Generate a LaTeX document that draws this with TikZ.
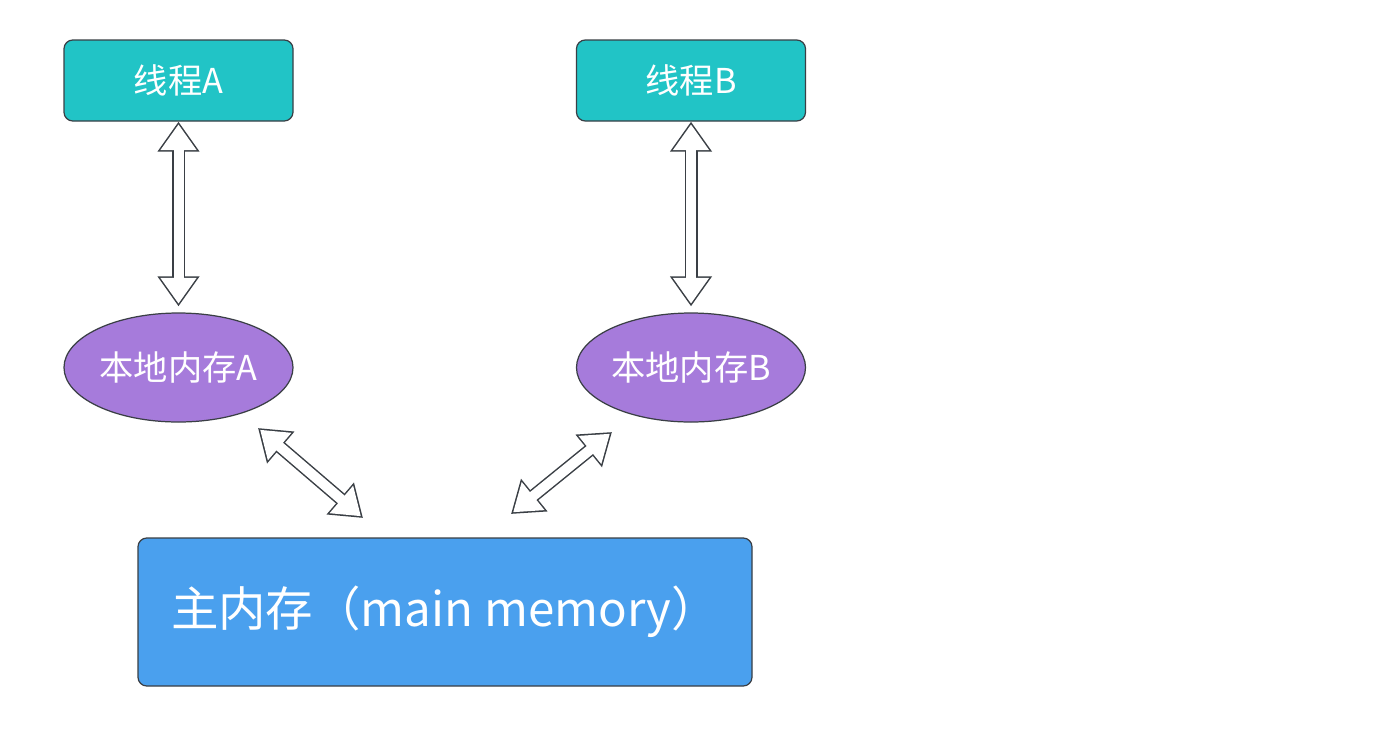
\documentclass[tikz,border=0pt]{standalone}
\usepackage{fontspec}
\setmainfont{Noto Sans CJK SC}
\usetikzlibrary{arrows.meta, shapes.geometric}
\definecolor{thread-teal}{HTML}{21C4C6}
\definecolor{local-purple}{HTML}{A67BDB}
\definecolor{main-blue}{HTML}{4AA0EE}
\definecolor{edge-gray}{HTML}{3A3F45}

\begin{document}
\begin{tikzpicture}[
    box/.style={draw=edge-gray, line width=0.7pt, rounded corners=5pt, text=white},
    blob/.style={draw=edge-gray, line width=0.7pt, ellipse, fill=local-purple, text=white,
      minimum width=4.58cm, minimum height=2.18cm, inner sep=0pt},
    hollow/.style={white, line width=0.2cm, shorten <=0.054cm, shorten >=0.054cm,
      {Triangle[length=0.516cm, width=0.688cm]}-{Triangle[length=0.516cm, width=0.688cm]},
      preaction={draw=edge-gray, line width=0.26cm, shorten <=0cm, shorten >=0cm,
        {Triangle[length=0.6cm, width=0.8cm]}-{Triangle[length=0.6cm, width=0.8cm]}}}]
    \useasboundingbox[fill=white] (0,0) rectangle (28,-14.6);
    % threads
    \node[box, fill=thread-teal, minimum width=4.58cm, minimum height=1.62cm,
          font=\fontsize{19.5pt}{23pt}\selectfont] (threadA) at (3.57,-1.61) {线程A};
    \node[box, fill=thread-teal, minimum width=4.58cm, minimum height=1.62cm,
          font=\fontsize{19.5pt}{23pt}\selectfont] (threadB) at (13.82,-1.61) {线程B};
    % local memory
    \node[blob, font=\fontsize{19.5pt}{23pt}\selectfont] (localA) at (3.57,-7.35) {本地内存A};
    \node[blob, font=\fontsize{19.5pt}{23pt}\selectfont] (localB) at (13.82,-7.35) {本地内存B};
    % main memory
    \node[box, fill=main-blue, minimum width=12.28cm, minimum height=2.96cm,
          font=\fontsize{27pt}{32pt}\selectfont] (mainmem) at (8.9,-12.24)
          {主内存（main memory）};
    \coordinate (endA) at (5.16,-8.56);
    \coordinate (topA) at (7.26,-10.36);
    \coordinate (endB) at (12.24,-8.64);
    \coordinate (topB) at (10.22,-10.28);
    \draw[hollow] (threadA.south) -- ([yshift=0.12cm]localA.north);
    \draw[hollow] (threadB.south) -- ([yshift=0.12cm]localB.north);
    \draw[hollow] (endA) -- (topA);
    \draw[hollow] (endB) -- (topB);
  \end{tikzpicture}
\end{document}
